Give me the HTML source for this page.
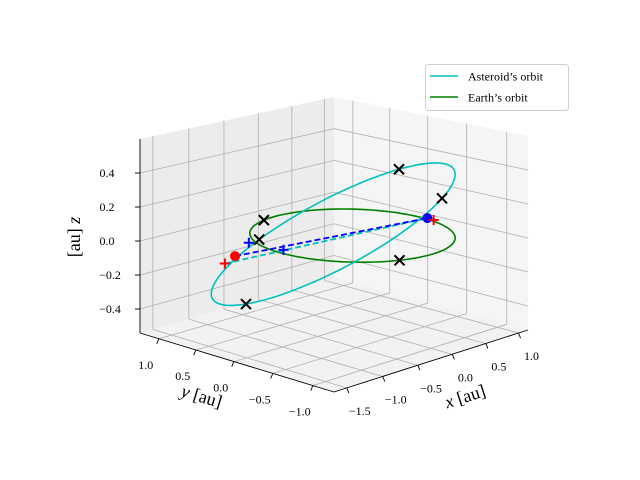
<!DOCTYPE html>
<html><head><meta charset="utf-8"><style>
html,body{margin:0;padding:0;background:#fff;}
svg{display:block;font-family:"Liberation Serif",serif;}
</style></head><body>
<svg id="chart" width="640" height="480" viewBox="0 0 640 480">
<g id="panes"></g>
<g id="grid"></g>
<g id="axes"></g>
<g id="series"></g>
<g id="legend">
  <rect x="425.5" y="64.5" width="143" height="46" rx="3" fill="#fff" fill-opacity="0.8" stroke="#d0d0d0"/>
  <line x1="430" y1="76" x2="458" y2="76" stroke="#00bfbf" stroke-width="1.6"/>
  <text x="468" y="80.5" font-size="12">Asteroid’s orbit</text>
  <line x1="430" y1="97" x2="458" y2="97" stroke="#008000" stroke-width="1.6"/>
  <text x="468" y="101.5" font-size="12">Earth’s orbit</text>
</g>
<text x="0" y="0" font-size="18" transform="translate(80,237) rotate(-90)" text-anchor="middle">[au] <tspan font-style="italic">z</tspan></text>
<text x="0" y="0" font-size="18" transform="translate(200,402) rotate(17)" text-anchor="middle"><tspan font-style="italic">y</tspan> [au]</text>
<text x="0" y="0" font-size="18" transform="translate(467,402) rotate(-18)" text-anchor="middle"><tspan font-style="italic">x</tspan> [au]</text>
</svg>
<script>
// ---- data ----
const xTicks = [-1.5, -1.0, -0.5, 0.0, 0.5, 1.0];
const yTicks = [-1.0, -0.5, 0.0, 0.5, 1.0];
const zTicks = [-0.4, -0.2, 0.0, 0.2, 0.4];
const xTickLabels = ["−1.5", "−1.0", "−0.5", "0.0", "0.5", "1.0"];
const yTickLabels = ["−1.0", "−0.5", "0.0", "0.5", "1.0"];
const zTickLabels = ["−0.4", "−0.2", "0.0", "0.2", "0.4"];
const xLim = [-1.675, 1.147];
const yLim = [-1.26, 1.26];
const zLim = [-0.541, 0.6];
const earthRadius = [1.0];
const asteroidCenter = [-0.057, 0.157, 0.0];
const asteroidAxisA = [1.384, -0.35, 0.272];
const asteroidAxisB = [0.15, -0.074, -0.19];
const asteroidMarkerAngles = [-51, 35, 144, -121];
const earthMarkerAngles = [102.7, -112];
const blueDot = [1.026, -0.097, 0.0];
const redDot = [-1.40, 0.245, 0.0];
const redPlusX = [-1.659, 1.013];
const redPlusY = [0.130, -0.188];
const bluePlusX = [-0.951, -0.900];
const bluePlusY = [0.489, 0.080];

// ---- projection ----
const PC = [334, 234.5], K = 0.0678;
function proj(x, y, z) {
  const u = (x - xLim[0]) / (xLim[1] - xLim[0]) - 0.5;
  const v = (y - yLim[0]) / (yLim[1] - yLim[0]) - 0.5;
  const w = (z - zLim[0]) / (zLim[1] - zLim[0]) - 0.5;
  const s = 1 + K * (-(u + v));
  return [PC[0] + (u * 194 - v * 194) * s, PC[1] + (-52 * u - 49 * v - 194 * w) * s];
}
const NS = "http://www.w3.org/2000/svg";
function mk(tag, attrs, parent) {
  const e = document.createElementNS(NS, tag);
  for (const k in attrs) e.setAttribute(k, attrs[k]);
  parent.appendChild(e);
  return e;
}
function pts(arr) { return arr.map(p => p[0].toFixed(1) + "," + p[1].toFixed(1)).join(" "); }
const panes = document.getElementById("panes"), grid = document.getElementById("grid"),
      axes = document.getElementById("axes"), series = document.getElementById("series");
const [x0, x1] = xLim, [y0, y1] = yLim, [z0, z1] = zLim;

let p = mk("polygon", {points: pts([proj(x0,y1,z0),proj(x1,y1,z0),proj(x1,y1,z1),proj(x0,y1,z1)]), fill:"#ececec"}, panes);


p = mk("polygon", {points: pts([proj(x1,y1,z0),proj(x1,y0,z0),proj(x1,y0,z1),proj(x1,y1,z1)]), fill:"#f5f5f5"}, panes);


p = mk("polygon", {points: pts([proj(x0,y0,z0),proj(x1,y0,z0),proj(x1,y1,z0),proj(x0,y1,z0)]), fill:"#f2f2f2"}, panes);



function gl(a, b, name) {
  const l = mk("line", {x1:a[0],y1:a[1],x2:b[0],y2:b[1],stroke:"#b0b0b0","stroke-width":0.8}, grid);
  
  
}
xTicks.forEach(t => { gl(proj(t,y1,z0), proj(t,y1,z1), 'grid-x-wall'); gl(proj(t,y0,z0), proj(t,y1,z0), 'grid-x-floor'); });
yTicks.forEach(t => { gl(proj(x1,t,z0), proj(x1,t,z1), 'grid-y-wall'); gl(proj(x0,t,z0), proj(x1,t,z0), 'grid-y-floor'); });
zTicks.forEach(t => { gl(proj(x0,y1,t), proj(x1,y1,t), 'grid-z-left'); gl(proj(x1,y1,t), proj(x1,y0,t), 'grid-z-right'); });

function al(a, b, name) {
  const l = mk("line", {x1:a[0],y1:a[1],x2:b[0],y2:b[1],stroke:"#000","stroke-width":0.9}, axes);
  
  
}
function tl(x, y, s, anchor, name) {
  const t = mk("text", {x:x, y:y, "font-size":12, "text-anchor":anchor}, axes);
  t.textContent = s;
  
  
}
al(proj(x0,y0,z0), proj(x1,y0,z0), 'x-axis-line');
al(proj(x0,y1,z0), proj(x0,y0,z0), 'y-axis-line');
al(proj(x0,y1,z0), proj(x0,y1,z1), 'z-axis-line');
xTicks.forEach((t, i) => {
  const a = proj(t,y0,z0);
  al(a, [a[0]+2, a[1]+5], 'x-tick');
  tl(a[0]+13, a[1]+27, xTickLabels[i], "middle", 'x-tick-label');
});
yTicks.forEach((t, i) => {
  const a = proj(x0,t,z0);
  al(a, [a[0]-2, a[1]+5], 'y-tick');
  tl(a[0]-13, a[1]+30, yTickLabels[i], "middle", 'y-tick-label');
});
zTicks.forEach((t, i) => {
  const a = proj(x0,y1,t);
  al(a, [a[0]-5, a[1]], 'z-tick');
  tl(a[0]-33 + (zTickLabels[i].length > 3 ? 3 : 0), a[1]+4, zTickLabels[i], "middle", 'z-tick-label');
});

const earthPts = [], astPts = [];
for (let d = 0; d <= 360; d += 3) {
  const r = d * Math.PI / 180, c = Math.cos(r), s = Math.sin(r);
  earthPts.push(proj(earthRadius[0]*c, earthRadius[0]*s, 0));
  astPts.push(proj(asteroidCenter[0]+c*asteroidAxisA[0]+s*asteroidAxisB[0],
                   asteroidCenter[1]+c*asteroidAxisA[1]+s*asteroidAxisB[1],
                   asteroidCenter[2]+c*asteroidAxisA[2]+s*asteroidAxisB[2]));
}
let e = mk("polyline", {points: pts(earthPts), fill:"none", stroke:"#008000", "stroke-width":1.6}, series);


e = mk("polyline", {points: pts(astPts), fill:"none", stroke:"#00bfbf", "stroke-width":1.6}, series);



function dl(a, b, col, name) {
  const A = proj(...a), B = proj(...b);
  const l = mk("line", {x1:A[0],y1:A[1],x2:B[0],y2:B[1],stroke:col,"stroke-width":1.8,"stroke-dasharray":"6,3"}, series);
  
  
}
dl([redPlusX[0], redPlusY[0], 0], blueDot, "#00bfbf", 'cyan-dashed-line');
dl(redDot, blueDot, "#0000ff", 'blue-dashed-line');

function cross(P, col, name) {
  const g = mk("path", {d:`M${P[0]-5},${P[1]-5}L${P[0]+5},${P[1]+5}M${P[0]-5},${P[1]+5}L${P[0]+5},${P[1]-5}`, stroke:col, "stroke-width":2, fill:"none"}, series);
  
  
}
function plus(P, col, name) {
  const g = mk("path", {d:`M${P[0]-5},${P[1]}L${P[0]+5},${P[1]}M${P[0]},${P[1]-5}L${P[0]},${P[1]+5}`, stroke:col, "stroke-width":2, fill:"none"}, series);
  
  
}
function dot(P, col, name) {
  const c = mk("circle", {cx:P[0], cy:P[1], r:5, fill:col}, series);
  
  
}
asteroidMarkerAngles.forEach(a => {
  const r = a * Math.PI / 180, c = Math.cos(r), s = Math.sin(r);
  cross(proj(asteroidCenter[0]+c*asteroidAxisA[0]+s*asteroidAxisB[0],
             asteroidCenter[1]+c*asteroidAxisA[1]+s*asteroidAxisB[1],
             asteroidCenter[2]+c*asteroidAxisA[2]+s*asteroidAxisB[2]), "#000", 'asteroid-x-marker');
});
earthMarkerAngles.forEach(a => {
  const r = a * Math.PI / 180;
  cross(proj(earthRadius[0]*Math.cos(r), earthRadius[0]*Math.sin(r), 0), "#000", 'earth-x-marker');
});
dot(proj(...redDot), "#ff0000", 'red-dot');
dot(proj(...blueDot), "#0000ff", 'blue-dot');
redPlusX.forEach((x, i) => plus(proj(x, redPlusY[i], 0), "#ff0000", 'red-plus'));
bluePlusX.forEach((x, i) => plus(proj(x, bluePlusY[i], 0), "#0000ff", 'blue-plus'));
</script>
</body></html>
